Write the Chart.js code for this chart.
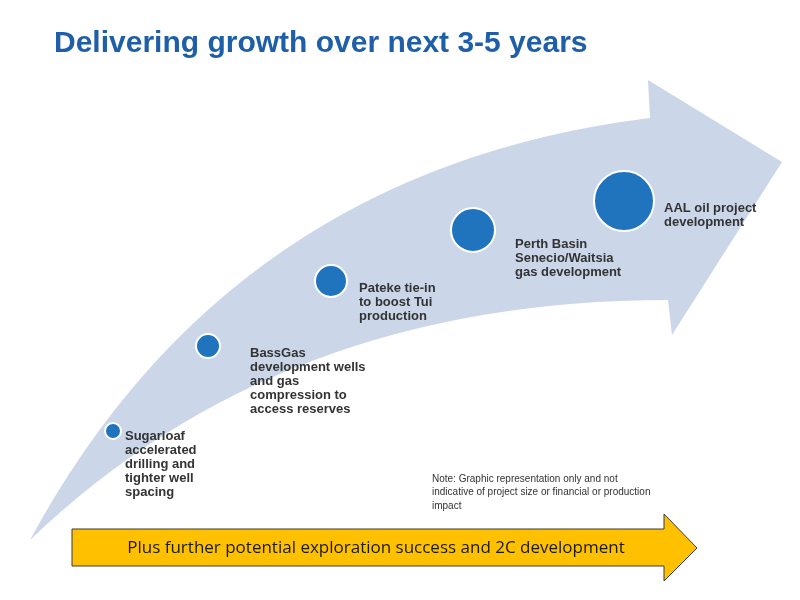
<!DOCTYPE html>
<html><head><meta charset="utf-8">
<script src="https://cdn.jsdelivr.net/npm/chart.js@4"></script>
<style>html,body{margin:0;padding:0;background:#fff}</style>
</head><body>
<canvas id="c" width="800" height="600"></canvas>
<script>
const projects = [
  ["Sugarloaf","accelerated","drilling and","tighter well","spacing"],
  ["BassGas","development wells","and gas","compression to","access reserves"],
  ["Pateke tie-in","to boost Tui","production"],
  ["Perth Basin","Senecio/Waitsia","gas development"],
  ["AAL oil project","development"]
];
const xPos = [113, 208, 331, 473, 624];
const yPos = [431, 346, 281, 230, 201];
const sizes = [8, 12, 16, 22, 30];

const bg = {
  id:'bg',
  beforeDatasetsDraw(chart){
    const c = chart.ctx;
    const sx = v=>chart.scales.x.getPixelForValue(v);
    const sy = v=>chart.scales.y.getPixelForValue(v);
    c.save();
    c.fillStyle = '#cbd6e8';
    c.beginPath();
    c.moveTo(30,540);
    c.quadraticCurveTo(230,170,650,118);
    c.lineTo(648,80);
    c.lineTo(782,162);
    c.lineTo(672,335);
    c.lineTo(668,300);
    c.quadraticCurveTo(280,300,30,540);
    c.closePath();
    c.fill();
    c.fillStyle = '#1f5fa8';
    c.font = 'bold 30px "Liberation Sans", Arial';
    c.textBaseline = 'middle';
    c.fillText('Delivering growth over next 3-5 years', 54, 44);
    c.fillStyle = '#333';
    c.font = 'bold 13px "Liberation Sans", Arial';
    const anchors = [[125,436],[250,353],[359,288],[515,244],[664,208]];
    projects.forEach((lines,i)=>{
      lines.forEach((t,j)=>c.fillText(t, anchors[i][0], anchors[i][1] + j*14));
    });
    c.font = '10px "Liberation Sans", Arial';
    ['Note: Graphic representation only and not','indicative of project size or financial or production','impact']
      .forEach((t,j)=>c.fillText(t, 432, 479 + j*13.5));
    c.fillStyle = '#ffc000';
    c.strokeStyle = '#3a3a3a';
    c.lineWidth = 1;
    c.beginPath();
    c.moveTo(72,529); c.lineTo(664,529); c.lineTo(664,514); c.lineTo(697,548);
    c.lineTo(664,581); c.lineTo(664,566); c.lineTo(72,566); c.closePath();
    c.fill(); c.stroke();
    c.fillStyle = '#1a1a1a';
    c.font = '17px "Open Sans", "DejaVu Sans", sans-serif';
    c.textAlign = 'center';
    c.fillText('Plus further potential exploration success and 2C development', 376, 548);
    c.restore();
  }
};

new Chart(document.getElementById('c'), {
  type:'bubble',
  data:{datasets:[{
    data: xPos.map((x,i)=>({x:x, y:yPos[i], r:sizes[i]})),
    backgroundColor:'#1f74bd',
    borderColor:'#ffffff',
    borderWidth:2
  }]},
  options:{
    responsive:false, animation:false,
    layout:{padding:0},
    plugins:{legend:{display:false},tooltip:{enabled:false}},
    scales:{
      x:{type:'linear',min:32,max:768,display:false},
      y:{type:'linear',min:32,max:568,reverse:true,display:false}
    }
  },
  plugins:[bg]
});
</script>
</body></html>
